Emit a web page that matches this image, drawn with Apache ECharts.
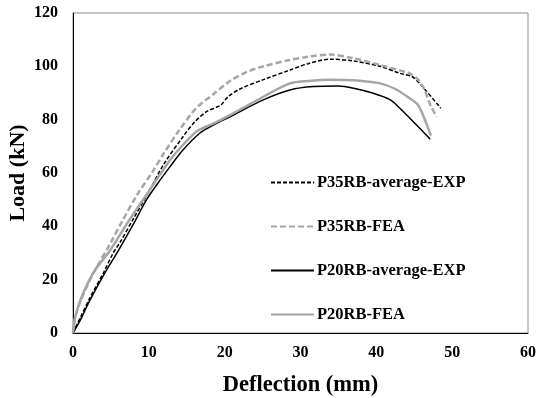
<!DOCTYPE html>
<html><head><meta charset="utf-8">
<script src="https://cdn.jsdelivr.net/npm/echarts@6/dist/echarts.min.js"></script>
<style>html,body{margin:0;padding:0;background:#fff}#c{width:538px;height:398px}</style>
</head><body><div id="c"></div>
<script>
const xTicks = [0, 10, 20, 30, 40, 50, 60];
const yTicks = [0, 20, 40, 60, 80, 100, 120];
const seriesNames = ['P35RB-average-EXP', 'P35RB-FEA', 'P20RB-average-EXP', 'P20RB-FEA'];

const p35Exp = [[0,0],[1,6],[2.2,13],[4,22.5],[5.3,30],[6.2,34],[8,43],[10,53],[11.9,63],[14.5,73.6],[16,79],[17.6,83],[19.5,85.5],[20.4,88.5],[22,91.5],[25.1,95],[28.6,98.6],[31,101],[33.9,102.7],[37,102],[40.5,100],[43.1,97.4],[44.8,96],[46.5,91],[48.5,84.3]];
const p35Fea = [[0,0],[0.3,6],[1,12],[2,18.5],[3,24],[5,34],[6.5,42],[8.5,52],[10.5,60.5],[12,67.5],[14,76],[16.3,84.5],[18.5,89.5],[20.7,94.5],[23,98],[25.1,100],[28.6,102.4],[31,103.6],[33.9,104.4],[37,103],[40.5,100.5],[43,98.5],[44.4,97.4],[45.5,95],[46.3,91.5],[47.2,85],[48,81]];
const p20Exp = [[0,0],[1,5],[2,11],[4,21.5],[6,31],[8,41],[9.7,50],[11.5,57.4],[12.8,62.4],[14.5,68.6],[16.7,74.9],[18.5,78],[20.7,81.1],[25.1,87.4],[28.6,91.1],[31.7,92.4],[35,92.6],[37,91.8],[39.5,90],[41.8,87.5],[43.1,84.3],[45.3,78],[47.1,72.7]];
const p20Fea = [[0,0],[0.3,6],[1,12.5],[2,19],[3,24],[4.9,31],[7,40.5],[10.2,54],[12.8,64.9],[14.5,70.5],[16.3,75.6],[18.5,78.5],[20.7,81.7],[25.1,88.6],[28.6,93.6],[31,94.5],[33.9,95],[37,94.8],[40.5,93.6],[42.5,91.5],[44.4,88],[45.5,85.5],[46.4,80],[47.2,74]];

const font = '"Liberation Serif", "Times New Roman", serif';
const chart = echarts.init(document.getElementById('c'), null, {renderer: 'canvas'});
function mk(name, data, color, width, type) {
  return {name, type: 'line', data, showSymbol: false, symbol: 'none', smooth: 0.3,
    lineStyle: {color, width, type}, itemStyle: {color}};
}
chart.setOption({
  animation: false,
  backgroundColor: '#fff',
  grid: {left: 73, top: 13, right: 10, bottom: 65, show: true, borderColor: '#8c8c8c', borderWidth: 1,
    outerBoundsMode: 'none', containLabel: false},
  xAxis: {type: 'value', min: xTicks[0], max: xTicks[xTicks.length - 1], interval: 10,
    name: 'Deflection (mm)', nameLocation: 'middle', nameGap: 41, nameMoveOverlap: false,
    nameTextStyle: {fontFamily: font, fontWeight: 'bold', fontSize: 22.5, color: '#000'},
    axisLine: {show: true, lineStyle: {color: '#000', width: 1}}, axisTick: {show: false},
    splitLine: {show: false},
    axisLabel: {fontFamily: font, fontWeight: 'bold', fontSize: 16, color: '#000', margin: 12}},
  yAxis: {type: 'value', min: yTicks[0], max: yTicks[yTicks.length - 1], interval: 20,
    name: 'Load (kN)', nameLocation: 'middle', nameGap: 44, nameMoveOverlap: false,
    nameTextStyle: {fontFamily: font, fontWeight: 'bold', fontSize: 22, color: '#000'},
    axisLine: {show: true, lineStyle: {color: '#000', width: 1}}, axisTick: {show: false},
    splitLine: {show: false},
    axisLabel: {fontFamily: font, fontWeight: 'bold', fontSize: 16, color: '#000', margin: 15}},
  legend: {orient: 'vertical', left: 265, top: 169, itemWidth: 43, itemHeight: 16, itemGap: 27,
    itemStyle: {opacity: 0},
    textStyle: {fontFamily: font, fontWeight: 'bold', fontSize: 16.5, color: '#000', padding: [0,0,0,-2]},
    data: seriesNames},
  series: [
    mk(seriesNames[0], p35Exp, '#000', 1.5, [4, 2]),
    mk(seriesNames[1], p35Fea, '#a6a6a6', 2.5, [6, 3]),
    mk(seriesNames[2], p20Exp, '#000', 1.5, 'solid'),
    mk(seriesNames[3], p20Fea, '#a6a6a6', 2.5, 'solid')
  ]
});
</script></body></html>
